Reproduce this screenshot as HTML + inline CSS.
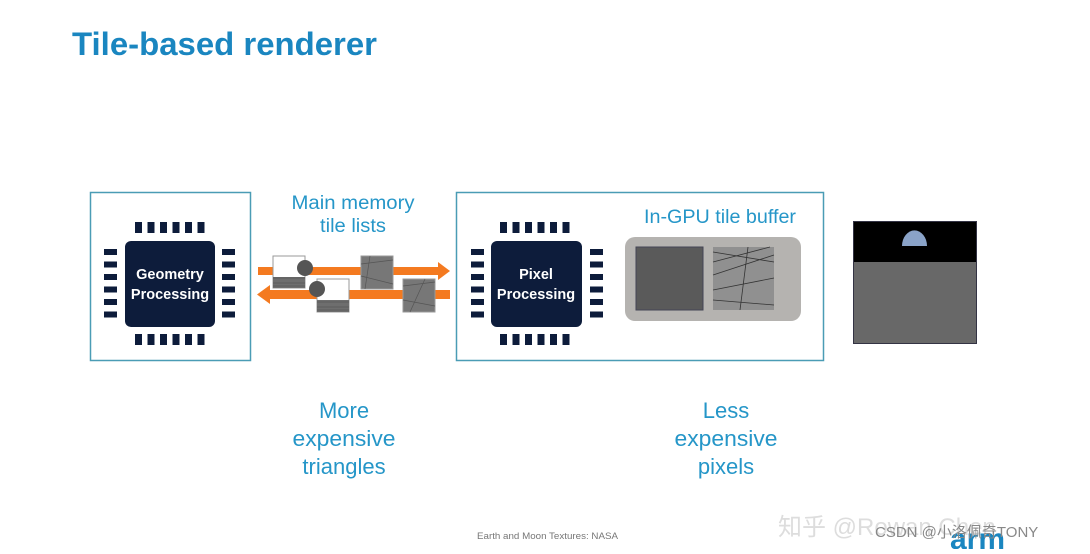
<!DOCTYPE html>
<html><head><meta charset="utf-8"><style>
body{margin:0;width:1090px;height:549px;background:#fff;overflow:hidden;font-family:"Liberation Sans","Noto Sans CJK SC",sans-serif}
</style></head><body>
<svg width="1090" height="549" viewBox="0 0 1090 549" xmlns="http://www.w3.org/2000/svg" font-family="Liberation Sans, Noto Sans CJK SC, sans-serif">
<defs>
<g id="pinsT"><rect x="0" y="0" width="7" height="11"/><rect x="12.5" y="0" width="7" height="11"/><rect x="25" y="0" width="7" height="11"/><rect x="37.5" y="0" width="7" height="11"/><rect x="50" y="0" width="7" height="11"/><rect x="62.5" y="0" width="7" height="11"/></g>
<g id="pinsS"><rect x="0" y="0" width="13" height="6"/><rect x="0" y="12.5" width="13" height="6"/><rect x="0" y="25" width="13" height="6"/><rect x="0" y="37.5" width="13" height="6"/><rect x="0" y="50" width="13" height="6"/><rect x="0" y="62.5" width="13" height="6"/></g>
<pattern id="rock" width="8" height="8" patternUnits="userSpaceOnUse"><rect width="8" height="8" fill="#6e6e6e"/><path d="M0 3h8M0 6h8" stroke="#5c5c5c" stroke-width="1"/></pattern>
</defs>
<text x="72" y="55" font-size="32" font-weight="bold" fill="#1a86c0" textLength="305" lengthAdjust="spacingAndGlyphs">Tile-based renderer</text>

<rect x="90.5" y="192.5" width="160" height="168" fill="none" stroke="#4a9cb5" stroke-width="1.5"/>
<g fill="#0d1c3b">
<rect x="125" y="241" width="90" height="86" rx="6"/>
<use href="#pinsT" x="135" y="222"/><use href="#pinsT" x="135" y="334"/>
<use href="#pinsS" x="104" y="249"/><use href="#pinsS" x="222" y="249"/>
</g>
<text x="170" y="279" font-size="14.5" font-weight="bold" fill="#fff" text-anchor="middle">Geometry</text>
<text x="170" y="299" font-size="14.5" font-weight="bold" fill="#fff" text-anchor="middle">Processing</text>

<g fill="#f47a20">
<rect x="258" y="267" width="182" height="8"/><polygon points="438,262 450,271 438,280"/>
<rect x="268" y="290" width="182" height="9"/><polygon points="270,285 257,294.5 270,304"/>
</g>
<text x="353" y="209" font-size="19" fill="#2596c8" text-anchor="middle" textLength="123" lengthAdjust="spacingAndGlyphs">Main memory</text>
<text x="353" y="232" font-size="19" fill="#2596c8" text-anchor="middle" textLength="66" lengthAdjust="spacingAndGlyphs">tile lists</text>
<rect x="273" y="256" width="32" height="32" fill="#fff" stroke="#999"/>
<rect x="273" y="277" width="32" height="11" fill="url(#rock)"/>
<circle cx="305" cy="268" r="8" fill="#555"/>
<rect x="361" y="256" width="32" height="33" fill="#777" stroke="#999"/>
<path d="M361 264L393 260M365 289L370 256M361 276L393 284" stroke="#555" stroke-width=".7"/>
<rect x="317" y="279" width="32" height="33" fill="#fff" stroke="#999"/>
<rect x="317" y="300" width="32" height="12" fill="url(#rock)"/>
<circle cx="317" cy="289" r="8" fill="#555"/>
<rect x="403" y="279" width="32" height="33" fill="#777" stroke="#999"/>
<path d="M403 286L435 282M410 312L425 279M403 300L435 306" stroke="#555" stroke-width=".7"/>

<rect x="456.5" y="192.5" width="367" height="168" fill="none" stroke="#4a9cb5" stroke-width="1.5"/>
<g fill="#0d1c3b">
<rect x="491" y="241" width="91" height="86" rx="6"/>
<use href="#pinsT" x="500" y="222"/><use href="#pinsT" x="500" y="334"/>
<use href="#pinsS" x="471" y="249"/><use href="#pinsS" x="590" y="249"/>
</g>
<text x="536" y="279" font-size="14.5" font-weight="bold" fill="#fff" text-anchor="middle">Pixel</text>
<text x="536" y="299" font-size="14.5" font-weight="bold" fill="#fff" text-anchor="middle">Processing</text>
<text x="720" y="223" font-size="19" fill="#2596c8" text-anchor="middle" textLength="152" lengthAdjust="spacingAndGlyphs">In-GPU tile buffer</text>
<rect x="625" y="237" width="176" height="84" rx="10" fill="#b5b3b0"/>
<rect x="636" y="247" width="67" height="63" fill="#5a5a5a" stroke="#445" stroke-width="1"/>
<rect x="713" y="247" width="61" height="63" fill="#909090"/>
<path d="M713 252L774 262M713 275L774 255M713 290L774 278M713 300L774 305M740 310L748 247M713 262L770 247" stroke="#333" stroke-width=".8" fill="none"/>

<rect x="853" y="221" width="124" height="123" fill="#686868"/>
<rect x="853" y="221" width="124" height="41" fill="#000"/>
<path d="M902 246a12 15 0 0 1 25 0z" fill="#8aa3c8"/>
<rect x="853.5" y="221.5" width="123" height="122" fill="none" stroke="#334" stroke-width="1"/>

<g font-size="22" fill="#2596c8" text-anchor="middle">
<text x="344" y="418">More</text><text x="344" y="446" textLength="103" lengthAdjust="spacingAndGlyphs">expensive</text><text x="344" y="474">triangles</text>
<text x="726" y="418">Less</text><text x="726" y="446" textLength="103" lengthAdjust="spacingAndGlyphs">expensive</text><text x="726" y="474">pixels</text>
</g>
<text x="477" y="539" font-size="9.5" fill="#777" textLength="141" lengthAdjust="spacingAndGlyphs">Earth and Moon Textures: NASA</text>
<text x="950" y="549" font-size="30" font-weight="bold" fill="#1a86c0">arm</text>
<text x="778" y="535" font-size="24" fill="#ddd">知乎 @Rowan Chen</text>
<text x="875" y="537" font-size="15" fill="#888">CSDN @小洛佩奇TONY</text>
</svg>
</body></html>
